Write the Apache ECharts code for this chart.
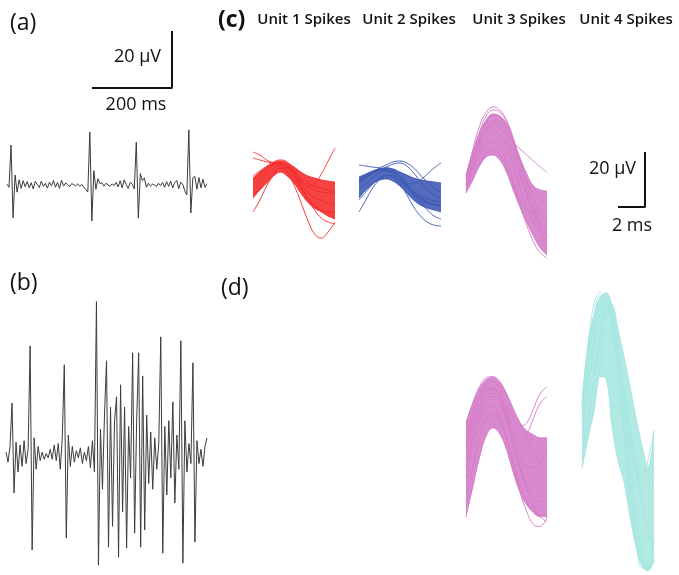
<!DOCTYPE html>
<html>
<head>
    <meta charset="utf-8">
    <title>Spike units</title>
    <script src="https://cdn.jsdelivr.net/npm/echarts@6/dist/echarts.min.js"></script>
    <style>
        html, body { margin: 0; padding: 0; background: #fff; }
        #main { width: 679px; height: 575px; }
    </style>
</head>
<body>
<div id="main"></div>
<script type="text/javascript">

// raw recordings (uV), one value per sample
var traceA = [0.3, -0.8, 14, -11.5, 3.5, -2.5, 1.8, -1.2, 1.5, -0.6,
    1.2, -1.0, 0.8, -1.4, 1.3, 0.2, -0.9, 1.4, -0.5, 0.6,
    -1.1, 1.0, -0.3, 1.6, -0.8, 0.9, -1.2, 1.7, -0.4, 0.7,
    0.2, -0.6, 0.5, 0.1, -0.3, 0.4, -0.5, 0.2, -0.8, -1.6,
    -2.5, 18.5, -12.6, 5.0, -1.5, 2.2, 0.5, 0.8, -0.4, 0.6,
    0.1, -0.5, 0.4, -0.2, 0.9, -0.7, 1.5, -1.0, 1.8, 0.2,
    -1.2, 1.0, 0.3, -1.4, 15, -11.6, 4.0, 1.5, 2.5, -0.8,
    0.6, -0.4, 0.3, 0.0, -0.5, 0.6, -0.2, 0.9, -0.8, 1.2,
    -0.5, 1.4, -1.0, 0.8, 1.6, -1.3, 1.0, 0.2, -2.0, -3.5,
    19.3, -9.8, 2.5, 3.0, -1.5, 2.6, -1.0, 2.0, -0.8, 0.5];

var traceB = [1.0, -2.5, 3.0, 18.2, -13.3, 4.5, -6.0, 3.5, -4.0, 5.0,
    -3.0, 2.0, 38.2, -33.3, 6.0, -5.0, 3.0, -2.0, 1.0, -1.5,
    0.5, -1.0, 2.0, -1.5, 3.5, -2.0, 4.0, -5.0, 6.0, 31.6,
    -29.1, 7.0, -4.0, 3.0, -2.5, 1.5, -1.0, 2.5, -3.0, 1.0,
    -2.0, 3.0, -4.5, 5.0, -6.0, 53.7, -38.6, 9.0, -12.0, 14.0,
    33.0, -32.3, 16.8, -25.0, 12.0, 20.4, -35.8, 24.6, -20.0, 16.8,
    -32.6, 10.0, -8.0, 35.8, -27.4, 12.0, 35.8, -32.3, 27.7, -26.3,
    14.0, -10.0, 8.0, -12.0, 6.0, -5.0, 4.0, 41.4, -34.4, 10.0,
    -14.0, 12.0, -8.0, 18.6, -16.8, 7.0, -5.0, 40.0, -37.9, 12.0,
    -6.0, 4.0, -3.0, 32.3, -30.5, 5.0, -3.0, 2.0, -4.0, 3.0, 6.0];

// spike waveform time base (ms)
var wfTime = ['0', '0.5', '1', '1.5', '2', '2.5', '3', '3.5', '4', '4.5', '5', '5.5', '6'];

// unit 1 (c)
var u1Upper = [1.6, 3.8, 5.6, 7.1, 7.8, 7.1, 5.6, 3.8, 2.4, 1.6, 0.9, 0.5, 0.2];
var u1Lower = [-5.6, -2.7, -0.2, 2.4, 3.8, 2.4, -0.2, -3.8, -7.1, -9.3, -10.7, -12.2, -13.3];
var u1Spikes = [
    [11.1, 10.0, 8.2, 7.1, 6.4, 4.5, 1.6, -2.0, -5.6, -8.5, -10.0, -10.7, -10.7],
    [8.9, 8.2, 7.5, 7.1, 6.7, 5.6, 3.5, 0.9, -1.3, -2.7, -3.5, -3.8, -4.2],
    [0.9, 3.1, 5.3, 6.7, 7.1, 5.6, 2.7, 0.2, -1.3, -0.5, 3.1, 7.8, 12.5],
    [-4.5, -2.0, 0.9, 3.8, 5.3, 3.8, -0.9, -7.1, -13.6, -18.7, -20.2, -18.0, -14.4],
    [-10.7, -6.4, -1.3, 2.7, 5.3, 5.3, 2.7, -1.6, -5.6, -8.5, -10.0, -10.7, -11.5],
    [2.4, 4.2, 6.0, 7.5, 8.2, 7.5, 4.5, 0.2, -3.5, -5.6, -6.4, -7.5, -8.2],
    [-0.9, 1.6, 4.5, 6.4, 7.5, 6.4, 3.8, 1.6, -0.2, -1.3, -2.0, -2.7, -3.5],
    [-2.7, 0.2, 3.1, 5.3, 6.4, 6.0, 3.1, -1.3, -5.6, -10.0, -12.9, -14.4, -15.1]
];

// unit 2 (c)
var u2Upper = [2.0, 3.1, 4.2, 4.9, 5.3, 4.9, 3.8, 2.7, 1.6, 0.9, 0.5, 0.2, -0.2];
var u2Lower = [-5.6, -2.7, -0.5, 0.9, 1.3, 0.5, -1.3, -3.8, -6.4, -8.2, -9.3, -10.0, -10.7];
var u2Spikes = [
    [6.4, 6.0, 5.6, 5.3, 4.5, 3.1, 0.9, -2.0, -4.5, -6.4, -7.5, -8.2, -8.5],
    [0.9, 2.4, 3.8, 5.3, 6.4, 7.5, 7.8, 7.1, 5.3, 2.7, 0.2, -2.0, -3.5],
    [-0.2, 1.6, 3.5, 4.5, 4.5, 3.1, 0.9, -0.5, -0.5, 0.9, 3.1, 5.3, 7.1],
    [-6.4, -3.5, -0.5, 1.6, 2.7, 2.0, -0.5, -4.5, -8.9, -12.2, -14.4, -15.5, -15.8],
    [-10.7, -6.4, -2.0, 0.9, 2.4, 2.4, 0.9, -1.3, -3.5, -4.9, -6.0, -6.7, -7.1],
    [0.2, 2.0, 3.8, 4.9, 5.3, 4.5, 2.4, -0.5, -3.5, -5.6, -7.1, -7.8, -8.2],
    [1.6, 2.4, 3.5, 4.5, 5.6, 6.7, 7.1, 6.0, 3.5, 0.2, -2.7, -4.5, -5.6],
    [-2.7, -0.5, 1.6, 3.5, 4.2, 3.8, 2.0, -0.9, -4.2, -7.1, -10.0, -12.2, -13.3]
];

// unit 3 (c)
var u3cUpper = [2.7, 11.1, 18.0, 22.7, 24.9, 24.2, 21.3, 15.5, 8.9, 3.1, -1.3, -2.7, -3.1];
var u3cLower = [-3.8, 0.9, 6.0, 9.3, 10.0, 8.2, 3.8, -2.7, -8.9, -14.4, -19.5, -23.8, -26.4];
var u3cSpikes = [
    [1.6, 11.8, 20.5, 25.6, 27.5, 26.4, 22.7, 16.2, 8.2, 0.9, -5.6, -10.7, -14.4],
    [0.9, 10.0, 18.4, 24.2, 26.4, 25.6, 22.0, 15.5, 7.5, -0.9, -8.2, -14.4, -19.5],
    [-0.9, 6.4, 13.6, 19.1, 22.0, 21.3, 18.4, 14.7, 12.2, 10.0, 7.8, 5.6, 3.8],
    [-2.7, 3.8, 10.0, 13.6, 14.7, 12.5, 7.5, 0.2, -8.2, -15.5, -21.6, -25.6, -27.5],
    [2.4, 8.9, 14.7, 19.1, 20.9, 19.8, 16.2, 10.0, 2.7, -4.5, -10.7, -15.5, -18.0],
    [-1.3, 5.3, 11.8, 16.2, 18.4, 17.3, 13.3, 6.4, -2.0, -9.3, -14.4, -17.3, -19.1],
    [-3.5, 1.6, 7.1, 10.7, 11.8, 10.0, 5.3, -0.9, -6.4, -10.0, -10.7, -8.2, -5.6],
    [-0.2, 7.1, 15.5, 21.6, 24.5, 23.8, 20.2, 13.3, 4.5, -3.8, -11.1, -17.3, -22.4]
];

// unit 3 (d)
var u3dUpper = [-0.9, 6.4, 11.8, 15.1, 15.8, 14.0, 9.6, 3.8, -0.9, -3.8, -5.3, -6.4, -6.4];
var u3dLower = [-35.5, -24.5, -13.6, -5.6, -2.7, -4.9, -10.7, -19.1, -26.4, -31.1, -34.0, -35.5, -35.5];
var u3dSpikes = [
    [-2.7, 6.4, 12.5, 15.8, 16.2, 14.4, 10.0, 4.5, -0.9, -6.4, -11.8, -15.5, -17.3],
    [-6.4, 2.7, 9.3, 13.3, 14.4, 11.8, 6.4, 0.9, -2.0, -0.9, 4.5, 10.0, 12.5],
    [-10.0, -0.9, 6.4, 10.7, 11.8, 9.3, 3.8, -2.7, -6.4, -4.9, 0.9, 6.4, 8.9],
    [-20.9, -10.0, -0.9, 4.5, 5.3, 1.6, -6.4, -16.5, -26.4, -33.6, -38.4, -39.1, -35.5],
    [-17.3, -6.4, 1.6, 7.5, 8.9, 6.4, 0.2, -8.9, -17.3, -23.8, -28.2, -30.0, -30.0],
    [-30.0, -17.3, -6.4, 0.9, 2.7, 0.2, -6.4, -15.5, -23.8, -30.0, -33.6, -34.7, -34.0],
    [-8.2, 0.9, 8.2, 11.8, 11.8, 8.9, 2.7, -5.6, -12.9, -17.3, -17.3, -14.4, -11.8],
    [-13.6, -3.5, 3.8, 8.9, 10.0, 7.5, 0.9, -8.2, -17.3, -25.3, -31.8, -35.5, -37.3]
];

// unit 4 (d)
var u4Upper = [6.4, 28.2, 39.1, 45.3, 47.1, 42.7, 33.6, 23.5, 12.5, 0.9, -9.3, -17.3, -3.8];
var u4Lower = [-17.3, -6.4, 3.5, 16.2, 15.5, -2.0, -14.7, -22.7, -35.5, -46.4, -53.6, -55.4, -51.1];
var u4Spikes = [
    [6.4, 28.2, 42.7, 47.1, 44.5, 35.5, 22.7, 10.0, -2.7, -15.5, -28.2, -39.1, -44.5],
    [0.9, 19.1, 35.5, 45.3, 46.0, 39.1, 26.4, 11.8, -2.7, -17.3, -31.8, -42.7, -46.4],
    [4.5, 22.7, 38.0, 46.0, 44.5, 33.6, 19.1, 4.5, -9.3, -19.1, -20.9, -14.4, -3.8],
    [-17.3, -6.4, 4.5, 19.1, 33.6, 31.8, 15.5, -6.4, -28.2, -44.5, -53.6, -54.4, -50.0],
    [-10.0, 0.9, 13.6, 28.2, 40.9, 42.7, 30.0, 8.2, -13.6, -33.6, -48.2, -53.6, -51.8],
    [-2.7, 13.6, 30.0, 42.7, 45.3, 37.3, 20.9, 0.9, -20.9, -39.1, -51.8, -55.4, -51.8],
    [-6.4, 10.0, 26.4, 39.1, 43.8, 38.0, 25.6, 10.0, -6.4, -20.2, -26.4, -23.8, -17.3],
    [-13.6, -0.9, 15.5, 31.8, 40.9, 37.3, 20.9, -2.7, -26.4, -44.5, -54.4, -53.6, -44.5]
];

// scale bars
var scaleA = { ms: 200, uV: 20 };
var scaleC = { ms: 2, uV: 20 };

var myChart = echarts.init(document.getElementById('main'));

var grids = [], xAxes = [], yAxes = [], series = [];

function addGrid(box, xa, ya) {
    grids.push(box);
    var i = grids.length - 1;
    xa.gridIndex = i; xa.show = false;
    ya.gridIndex = i; ya.show = false;
    xAxes.push(xa);
    yAxes.push(ya);
    return i;
}

function addTrace(box, values, yMin, yMax) {
    var g = addGrid(box, { type: 'value', min: 0, max: values.length - 1 }, { type: 'value', min: yMin, max: yMax });
    series.push({
        type: 'line', xAxisIndex: g, yAxisIndex: g,
        data: values.map(function (v, i) { return [i, v]; }),
        showSymbol: false, silent: true,
        lineStyle: { color: '#3c3c3c', width: 1 }
    });
}

function addScaleBar(box, sc) {
    var g = addGrid(box, { type: 'value', min: 0, max: sc.ms }, { type: 'value', min: 0, max: sc.uV });
    series.push({
        type: 'line', xAxisIndex: g, yAxisIndex: g, clip: false,
        data: [[0, 0], [sc.ms, 0], [sc.ms, sc.uV]],
        showSymbol: false, silent: true,
        lineStyle: { color: '#111', width: 2 }
    });
}

function addUnit(box, yMin, yMax, upper, lower, spikes, color) {
    var g = addGrid(box,
        { type: 'category', data: wfTime, boundaryGap: false },
        { type: 'value', min: yMin, max: yMax });
    var stackName = 'band' + g;
    series.push({
        type: 'line', xAxisIndex: g, yAxisIndex: g, data: lower,
        stack: stackName, stackStrategy: 'all', smooth: 0.4,
        showSymbol: false, silent: true,
        lineStyle: { color: color, width: 1 }
    });
    series.push({
        type: 'line', xAxisIndex: g, yAxisIndex: g,
        data: upper.map(function (v, i) { return +(v - lower[i]).toFixed(2); }),
        stack: stackName, stackStrategy: 'all', smooth: 0.4,
        showSymbol: false, silent: true,
        lineStyle: { color: color, width: 1 },
        areaStyle: { color: color, opacity: 0.88 }
    });
    spikes.forEach(function (s) {
        series.push({
            type: 'line', xAxisIndex: g, yAxisIndex: g, data: s,
            smooth: 0.4, showSymbol: false, silent: true,
            lineStyle: { color: color, width: 1, opacity: 0.9 }
        });
    });
}

addTrace({ left: 7, top: 125, width: 200, height: 100 }, traceA, -14, 21);
addTrace({ left: 6, top: 298, width: 201, height: 274 }, traceB, -41, 55);
addScaleBar({ left: 92, top: 31, width: 80, height: 57 }, scaleA);
addScaleBar({ left: 618, top: 152, width: 27, height: 55 }, scaleC);

addUnit({ left: 253, top: 100, width: 82, height: 165 }, -30, 30, u1Upper, u1Lower, u1Spikes, '#f52a2a');
addUnit({ left: 359, top: 100, width: 82, height: 165 }, -30, 30, u2Upper, u2Lower, u2Spikes, '#3b56b3');
addUnit({ left: 466, top: 100, width: 81, height: 165 }, -30, 30, u3cUpper, u3cLower, u3cSpikes, '#d47ac8');
addUnit({ left: 466, top: 285, width: 81, height: 294.25 }, -57, 50, u3dUpper, u3dLower, u3dSpikes, '#d47ac8');
addUnit({ left: 582, top: 285, width: 72, height: 294.25 }, -57, 50, u4Upper, u4Lower, u4Spikes, '#a6e6e1');

var FONT = '"Open Sans", "Noto Sans", sans-serif';
function label(text, x, y, size, weight, align) {
    return {
        type: 'text', x: x, y: y, silent: true,
        style: {
            text: text, fill: '#111', fontSize: size, fontWeight: weight,
            fontFamily: FONT, align: align || 'left', verticalAlign: 'middle'
        }
    };
}

option = {
    animation: false,
    backgroundColor: '#fff',
    grid: grids,
    xAxis: xAxes,
    yAxis: yAxes,
    series: series,
    graphic: [
        label('(a)', 10, 23, 23, 'normal'),
        label('(b)', 10, 283, 23, 'normal'),
        label('(c)', 218, 20, 23, 'bold'),
        label('(d)', 221, 288, 23, 'normal'),
        label('20 \u03bcV', 161, 57, 18, 'normal', 'right'),
        label('200 ms', 136, 105, 18, 'normal', 'center'),
        label('20 \u03bcV', 636, 169, 18, 'normal', 'right'),
        label('2 ms', 632, 226, 18, 'normal', 'center'),
        label('Unit 1 Spikes', 304, 20, 15, 600, 'center'),
        label('Unit 2 Spikes', 409, 20, 15, 600, 'center'),
        label('Unit 3 Spikes', 519, 20, 15, 600, 'center'),
        label('Unit 4 Spikes', 626, 20, 15, 600, 'center')
    ]
};

myChart.setOption(option);

</script>
</body>
</html>
